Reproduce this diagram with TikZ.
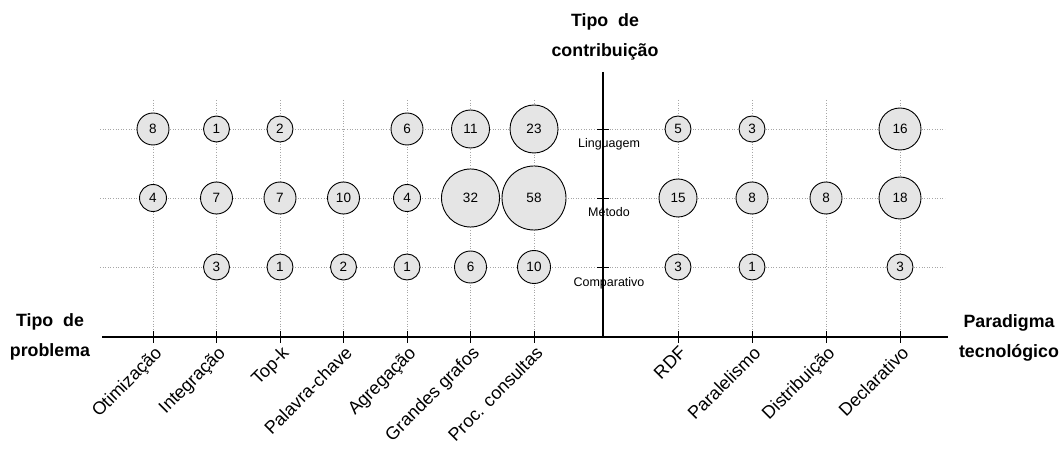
\documentclass[tikz,border=0pt]{standalone}
\usepackage{fontspec}
\setmainfont{Liberation Sans}
\begin{document}
\begin{tikzpicture}[x=1pt,y=-1pt,
 bub/.style={circle,draw=black,line width=0.9pt,fill=black!10,inner sep=0pt,font=\fontsize{13.5}{15}\selectfont},
 gridline/.style={black!35,dotted,line width=0.6pt},
 axisline/.style={black,line width=1.1pt},
 tickmark/.style={black,line width=0.9pt},
 title/.style={font=\fontsize{17.8}{30}\selectfont\bfseries,align=center,inner sep=0pt,anchor=north},
 cat/.style={font=\fontsize{18}{20}\selectfont,rotate=45,anchor=north east,inner sep=2pt},
 rowlab/.style={font=\fontsize{12.5}{14}\selectfont,anchor=base,inner sep=0pt}
]
\useasboundingbox (0,0) rectangle (1063,454);
% grid: rows
\foreach \y/\n in {129/L,198/M,267/C}{
  \coordinate (g\n w) at (100,\y);
  \coordinate (g\n e) at (945,\y);
  \draw[gridline] (g\n w) -- (g\n e);
}
% grid: columns
\foreach \x/\i in {153/1,216.5/2,280/3,343.5/4,407/5,470.5/6,534/7,678/8,752/9,826/10,900/11}{
  \coordinate (c\i t) at (\x,100);
  \coordinate (c\i b) at (\x,337);
  \coordinate (c\i u) at (\x,331);
  \coordinate (c\i d) at (\x,343);
  \coordinate (c\i l) at (\x+0.5,342);
  \draw[gridline] (c\i t) -- (c\i b);
}
% axes
\coordinate (axL) at (102,337);
\coordinate (axR) at (948,337);
\coordinate (axT) at (603,72);
\coordinate (axO) at (603,337);
\draw[axisline] (axL) -- (axR);
\draw[axisline] (axT) -- (axO);
% ticks on horizontal axis
\foreach \i in {1,...,11}{
  \draw[tickmark] (c\i u) -- (c\i d);
}
% ticks on vertical axis + row labels
\foreach \y/\n/\lab/\ly in {129/L/Linguagem/148,198/M/Método/217,267/C/Comparativo/287}{
  \coordinate (t\n a) at (597,\y);
  \coordinate (t\n b) at (609,\y);
  \draw[tickmark] (t\n a) -- (t\n b);
  \node[rowlab] (lab\n) at (609,\ly) {\lab};
}
% bubbles
\foreach \x/\y/\v/\r/\n in {
  153/129/8/16/a1, 216.5/129/1/13/a2, 280/129/2/13/a3, 407/129/6/16/a5, 470.5/129/11/19/a6, 534/129/23/24/a7,
  678/129/5/13/a8, 752/129/3/13/a9, 900/129/16/21/a11,
  153/198/4/13.5/b1, 216.5/198/7/16/b2, 280/198/7/16/b3, 343.5/198/10/16/b4, 407/198/4/13.5/b5, 470.5/198/32/29/b6, 534/198/58/32/b7,
  678/198/15/19/b8, 752/198/8/16/b9, 826/198/8/16/b10, 900/198/18/21/b11,
  216.5/267/3/13/d2, 280/267/1/13/d3, 343.5/267/2/13/d4, 407/267/1/13/d5, 470.5/267/6/16/d6, 534/267/10/16.5/d7,
  678/267/3/13/d8, 752/267/1/13/d9, 900/267/3/13/d11}{
  \node[bub,minimum size=2*\r pt] (\n) at (\x,\y) {\v};
}
% category labels
\foreach \lab/\i in {Otimização/1,Integração/2,Top-k/3,Palavra-chave/4,Agregação/5,Grandes grafos/6,Proc. consultas/7,RDF/8,Paralelismo/9,Distribuição/10,Declarativo/11}{
  \node[cat] (cat\i) at (c\i l) {\lab};
}
% titles
\node[title] (ttop) at (605,13) {Tipo\ \ de\\contribuição};
\node[title] (tleft) at (50,313) {Tipo\ \ de\\problema};
\node[title] (tright) at (1009,314) {Paradigma\\tecnológico};
\end{tikzpicture}
\end{document}
